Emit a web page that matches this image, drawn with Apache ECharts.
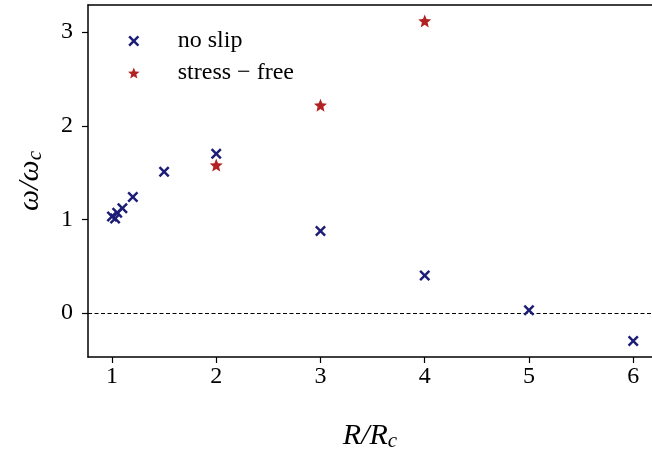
<!DOCTYPE html>
<html>
<head>
<meta charset="utf-8">
<script src="https://cdn.jsdelivr.net/npm/echarts@6/dist/echarts.min.js"></script>
<style>
html, body { margin: 0; padding: 0; background: #fff; }
#chart { width: 652px; height: 457px; }
</style>
</head>
<body>
<div id="chart"></div>
<script>
// 数据
var noSlipX = [1.0, 1.03, 1.05, 1.1, 1.2, 1.5, 2, 3, 4, 5, 6];
var noSlipY = [1.03, 1.01, 1.07, 1.12, 1.24, 1.51, 1.70, 0.875, 0.40, 0.03, -0.30];
var stressFreeX = [2, 3, 4];
var stressFreeY = [1.58, 2.22, 3.12];
var xTicks = [1, 2, 3, 4, 5, 6];
var yTicks = [0, 1, 2, 3];

var crossPath = 'path://M0,1.6L1.6,0L5,3.4L8.4,0L10,1.6L6.6,5L10,8.4L8.4,10L5,6.6L1.6,10L0,8.4L3.4,5Z';
var starPath = 'path://M50,0L62.93,32.2L97.55,34.55L70.92,56.8L79.39,90.45L50,72L20.61,90.45L29.08,56.8L2.45,34.55L37.07,32.2Z';

var fontFamily = '"Liberation Serif", "DejaVu Serif", serif';

function pairs(xs, ys) {
    var out = [];
    for (var i = 0; i < xs.length; i++) out.push([xs[i], ys[i]]);
    return out;
}

var nameRich = {
    i: { fontFamily: fontFamily, fontStyle: 'italic', fontSize: 30, color: '#000' },
    s: { fontFamily: fontFamily, fontStyle: 'italic', fontSize: 21, color: '#000', verticalAlign: 'bottom', padding: [10, 0, 0, 0] }
};

var myChart = echarts.init(document.getElementById('chart'));

var option = {
    backgroundColor: '#fff',
    animation: false,
    grid: {
        left: 88,
        top: 5,
        right: 0,
        bottom: 98
    },
    legend: {
        orient: 'vertical',
        left: 123,
        top: 24,
        itemWidth: 40,
        itemHeight: 11,
        itemGap: 8,
        textStyle: {
            fontFamily: fontFamily,
            fontSize: 24,
            lineHeight: 24,
            color: '#000',
            padding: [0, 0, 0, 19]
        },
        data: ['no slip', 'stress \u2212 free']
    },
    xAxis: [{
        type: 'value',
        min: 0.77,
        max: 6.18,
        name: '{i|R/R}{s|c}',
        nameLocation: 'middle',
        nameGap: 64,
        nameTextStyle: { rich: nameRich },
        splitLine: { show: false },
        axisLine: { onZero: false, lineStyle: { color: '#000', width: 1.5 } },
        axisTick: { customValues: xTicks, length: 6, lineStyle: { color: '#000', width: 1.2 } },
        axisLabel: { customValues: xTicks, fontFamily: fontFamily, fontSize: 24, color: '#000', margin: 8 }
    }, {
        // 上边框
        type: 'value',
        position: 'top',
        min: 0.77,
        max: 6.18,
        splitLine: { show: false },
        axisLine: { show: true, onZero: false, lineStyle: { color: '#000', width: 1.5 } },
        axisTick: { show: false },
        axisLabel: { show: false }
    }],
    yAxis: {
        type: 'value',
        min: -0.47,
        max: 3.29,
        name: '{i|\u03c9/\u03c9}{s|c}',
        nameLocation: 'middle',
        nameGap: 42,
        nameTextStyle: { rich: nameRich },
        splitLine: { show: false },
        axisLine: { show: true, onZero: false, lineStyle: { color: '#000', width: 1.5 } },
        axisTick: { show: true, customValues: yTicks, length: 6, lineStyle: { color: '#000', width: 1.2 } },
        axisLabel: { customValues: yTicks, fontFamily: fontFamily, fontSize: 24, color: '#000', margin: 15 }
    },
    series: [
        {
            name: 'no slip',
            type: 'scatter',
            symbol: crossPath,
            symbolSize: 11,
            itemStyle: { color: '#1d1d78', opacity: 1 },
            data: pairs(noSlipX, noSlipY),
            z: 3,
            markLine: {
                silent: true,
                symbol: 'none',
                label: { show: false },
                lineStyle: { color: '#000', type: [4, 2.5], width: 1 },
                data: [{ yAxis: 0 }],
                z: 1
            }
        },
        {
            name: 'stress \u2212 free',
            type: 'scatter',
            symbol: starPath,
            symbolSize: 13,
            itemStyle: { color: '#b22222', opacity: 1 },
            data: pairs(stressFreeX, stressFreeY),
            z: 3
        }
    ]
};

myChart.setOption(option);
</script>
</body>
</html>
